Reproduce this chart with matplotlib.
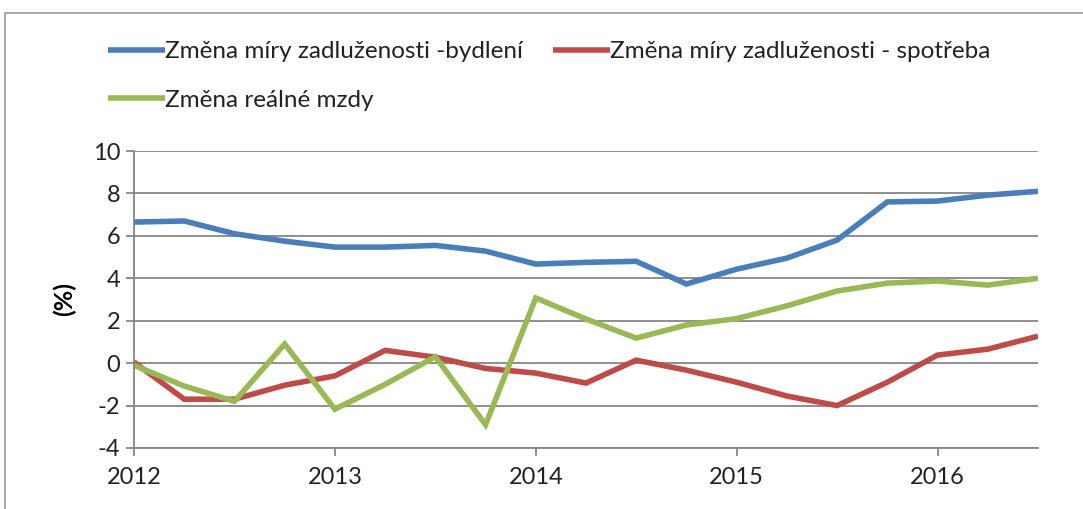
import matplotlib.pyplot as plt
from matplotlib.patches import Rectangle

# kvartaly 2012Q1 .. 2016Q3
quarters = [2012 + i * 0.25 for i in range(19)]

bydleni = [6.65, 6.7, 6.1, 5.75, 5.47, 5.47, 5.55, 5.28, 4.67, 4.75,
           4.8, 3.73, 4.43, 4.95, 5.8, 7.6, 7.64, 7.92, 8.1]
spotreba = [0.05, -1.7, -1.7, -1.04, -0.6, 0.6, 0.28, -0.25, -0.47, -0.94,
            0.14, -0.33, -0.9, -1.55, -2.0, -0.9, 0.38, 0.66, 1.27]
mzdy = [-0.1, -1.08, -1.8, 0.9, -2.17, -1.0, 0.3, -2.9, 3.07, 2.08,
        1.18, 1.8, 2.1, 2.7, 3.4, 3.77, 3.87, 3.68, 4.0]

year_ticks = [2012, 2013, 2014, 2015, 2016]
y_ticks = [-4, -2, 0, 2, 4, 6, 8, 10]

labels = ['Změna míry zadluženosti -bydlení',
          'Změna míry zadluženosti - spotřeba',
          'Změna reálné mzdy']
colors = ['#4A7EBB', '#BE4B48', '#98B954']

plt.rcParams['font.family'] = ['Lato', 'DejaVu Sans']
plt.rcParams['axes.unicode_minus'] = False

fig = plt.figure(figsize=(10.83, 5.09), dpi=100)
ax = fig.add_axes([134 / 1083, 61 / 509, 904 / 1083, 297 / 509])

# ramecek kolem grafu
fig.patches.append(Rectangle((5 / 1083, -0.1), 1.2, (509 - 13) / 509 + 0.1,
                             transform=fig.transFigure, fill=False,
                             edgecolor='#9a9a9a', linewidth=1.2))

lines = []
for series, lab, col in zip([bydleni, spotreba, mzdy], labels, colors):
    ln, = ax.plot(quarters, series, color=col, linewidth=4.0, label=lab,
                  solid_capstyle='butt', solid_joinstyle='miter')
    lines.append(ln)

ax.set_xlim(2012, 2016.5)
ax.set_ylim(-4, 10)
ax.set_yticks(y_ticks)
ax.set_xticks(year_ticks)
ax.set_xticklabels([str(y) for y in year_ticks])
ax.tick_params(axis='both', labelsize=17, color='#868686', width=1.3,
               length=6, pad=4, labelcolor='#222222')
ax.tick_params(axis='x', pad=8)
ax.grid(axis='y', color='#868686', linewidth=1.3)
ax.set_axisbelow(True)
for side in ['top', 'right']:
    ax.spines[side].set_visible(False)
for side in ['left', 'bottom']:
    ax.spines[side].set_color('#868686')
    ax.spines[side].set_linewidth(1.3)

ax.set_ylabel('(%)', fontsize=18, fontweight='bold', labelpad=12)

# poradi: sloupec 1 = bydleni, mzdy; sloupec 2 = spotreba
order = [0, 2, 1]
leg = fig.legend([lines[i] for i in order], [labels[i] for i in order],
                 loc='upper left', bbox_to_anchor=(108 / 1083, 1 - 41 / 509),
                 ncol=2, frameon=False, handlelength=2.35,
                 handletextpad=0.0, columnspacing=1.25, labelspacing=1.15,
                 borderpad=0, borderaxespad=0, prop={'size': 17.5})
for t in leg.get_texts():
    t.set_color('#222222')

fig.savefig('out.png', dpi=100)
